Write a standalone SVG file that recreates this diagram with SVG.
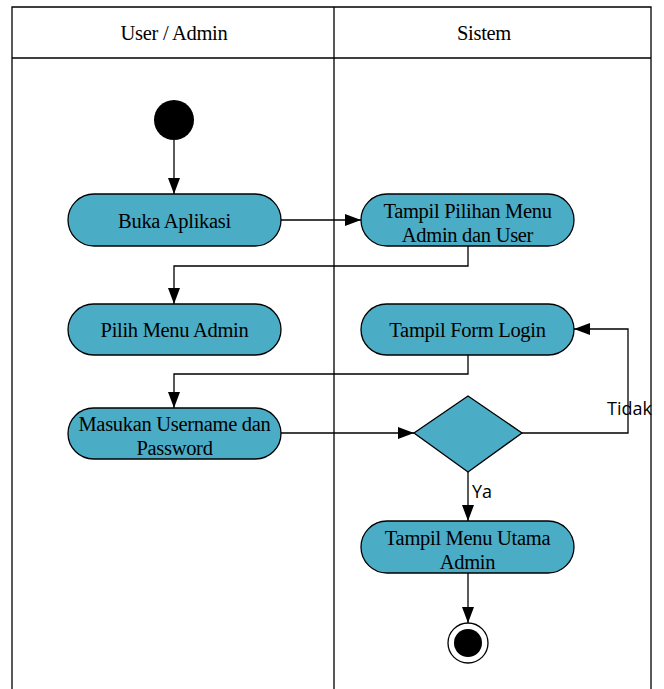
<svg xmlns="http://www.w3.org/2000/svg" width="664" height="689" viewBox="0 0 664 689">
<style>
.lane{fill:none;stroke:#000;stroke-width:1.3}
.act{fill:#4BACC6;stroke:#000;stroke-width:1.3}
.t{font-family:"Liberation Serif","Times New Roman",serif;font-size:20.5px;fill:#000;text-anchor:middle;letter-spacing:-0.3px}
.lbl{font-family:"Open Sans","DejaVu Sans",sans-serif;font-size:18px;fill:#000}
.c{fill:none;stroke:#000;stroke-width:1.3}
</style>
<defs>
<marker id="ahb" viewBox="0 0 16 12" refX="16" refY="6" markerWidth="16" markerHeight="12" markerUnits="userSpaceOnUse" orient="auto">
<path d="M0,0 L16,6 L0,12 z" fill="#000"/>
</marker>
</defs>
<g id="swimlanes">
<path class="lane" d="M12,689 V7 H651 V689 M12,58 H651 M334,7 V689"/>
<text class="t" x="174" y="40">User / Admin</text>
<text class="t" x="484" y="40">Sistem</text>
</g>
<g id="start"><circle cx="174" cy="120" r="20" fill="#000"/></g>
<g id="buka"><rect class="act" x="68" y="194" width="213" height="52" rx="26"/><text class="t" x="174.5" y="228">Buka Aplikasi</text></g>
<g id="pilihan"><rect class="act" x="361" y="194" width="213" height="52" rx="26"/><text class="t" x="467.5" y="218">Tampil Pilihan Menu</text><text class="t" x="467.5" y="242">Admin dan User</text></g>
<g id="pilih"><rect class="act" x="68" y="304" width="213" height="51" rx="25.5"/><text class="t" x="174.5" y="337">Pilih Menu Admin</text></g>
<g id="formlogin"><rect class="act" x="361" y="304" width="213" height="51" rx="25.5"/><text class="t" x="467.5" y="337">Tampil Form Login</text></g>
<g id="masukan"><rect class="act" x="68" y="408" width="213" height="51" rx="25.5"/><text class="t" x="174.5" y="431">Masukan Username dan</text><text class="t" x="174.5" y="455">Password</text></g>
<g id="decision"><path class="act" d="M468,396 L522,433 L468,472 L414,433 z"/></g>
<g id="menuutama"><rect class="act" x="361" y="521" width="213" height="52" rx="26"/><text class="t" x="467.5" y="545">Tampil Menu Utama</text><text class="t" x="467.5" y="569">Admin</text></g>
<g id="end"><circle cx="468" cy="643" r="20" fill="#fff" stroke="#000" stroke-width="1.3"/><circle cx="468" cy="643" r="14" fill="#000"/></g>
<g id="connectors">
<path class="c" d="M174,140 V194" marker-end="url(#ahb)"/>
<path class="c" d="M281,220 H361" marker-end="url(#ahb)"/>
<path class="c" d="M468,246 V266 H174 V304" marker-end="url(#ahb)"/>
<path class="c" d="M468,355 V374 H174 V408" marker-end="url(#ahb)"/>
<path class="c" d="M281,433 H414" marker-end="url(#ahb)"/>
<path class="c" d="M522,433 H628 V329 H574" marker-end="url(#ahb)"/>
<path class="c" d="M468,472 V521" marker-end="url(#ahb)"/>
<path class="c" d="M468,573 V623" marker-end="url(#ahb)"/>
<text class="lbl" x="607" y="415">Tidak</text>
<text class="lbl" x="472" y="498">Ya</text>
</g>
</svg>
